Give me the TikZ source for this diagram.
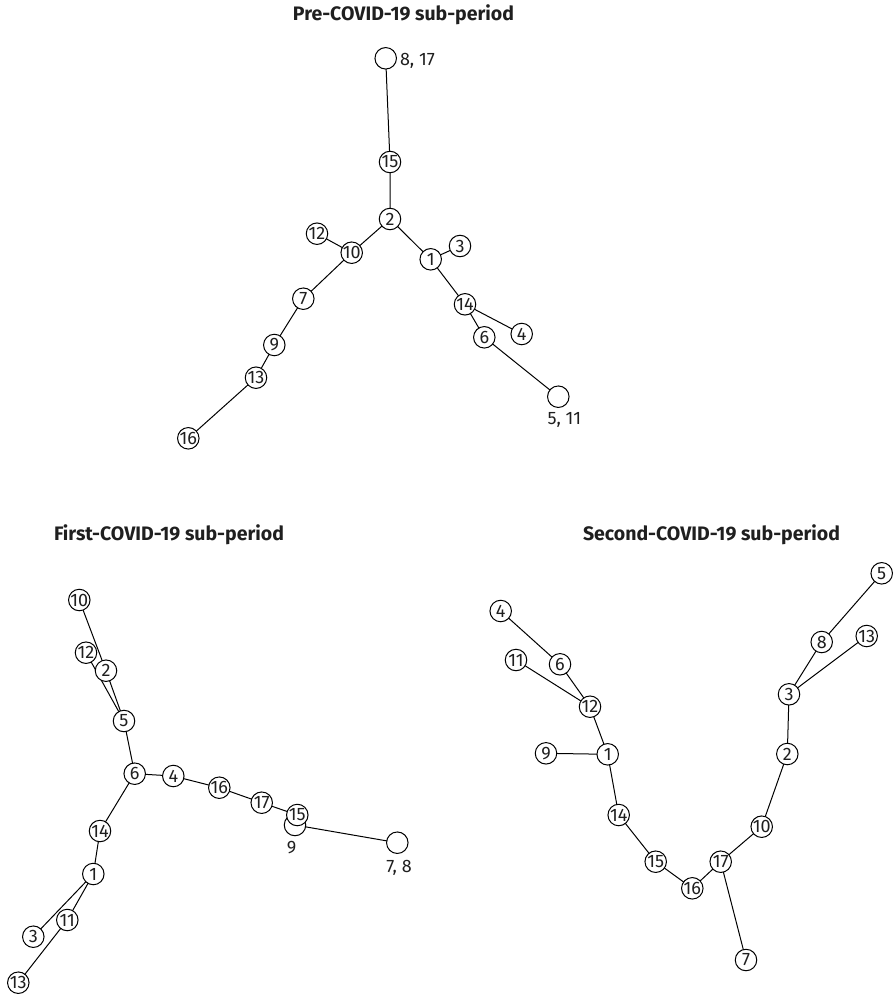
\documentclass[tikz,border=0pt]{standalone}
\usepackage{fontspec}
\setmainfont{Fira Sans}
\pgfdeclarelayer{bg}
\pgfsetlayers{bg,main}
% vertex number set in a zero-width box so every circle has the same size
\newcommand\vnum[1]{\makebox[0pt]{#1}}
\begin{document}
\begin{tikzpicture}[x=1pt,y=-1pt,
  vtx/.style={circle,draw,fill=white,line width=1pt,inner sep=0pt,
    minimum size=21.5pt,text=black!88,font=\fontsize{18}{18}\selectfont},
  edge/.style={line width=1pt},
  ttl/.style={anchor=base,text=black!88,font=\bfseries\fontsize{19.5}{22}\selectfont},
  tag/.style={text=black!88,font=\fontsize{18}{18}\selectfont}]
\useasboundingbox (0,0) rectangle (895,996);

% ---------- Pre-COVID-19 ----------
\node[ttl] (t1) at (403.5,20.7) {Pre-COVID-19 sub-period};
\node[vtx] (a817) at (385.7,58.3) {};
\node[tag,anchor=west] (a817l) at (396.5,60.5) {8, 17};
\node[vtx] (a15) at (390,162) {\vnum{15}};
\node[vtx] (a2) at (390,219) {\vnum{2}};
\node[vtx] (a12) at (317,233.7) {\vnum{12}};
\node[vtx] (a10) at (351.7,252.7) {\vnum{10}};
\node[vtx] (a1) at (430.7,259.3) {\vnum{1}};
\node[vtx] (a3) at (460,246) {\vnum{3}};
\node[vtx] (a7) at (303.3,298.7) {\vnum{7}};
\node[vtx] (a14) at (465,304.3) {\vnum{14}};
\node[vtx] (a4) at (521.7,334) {\vnum{4}};
\node[vtx] (a6) at (484.3,337.3) {\vnum{6}};
\node[vtx] (a9) at (274.3,345) {\vnum{9}};
\node[vtx] (a13) at (256,377.7) {\vnum{13}};
\node[vtx] (a511) at (558.3,396.7) {};
\node[tag] (a511l) at (564.3,420) {5, 11};
\node[vtx] (a16) at (188.3,438.3) {\vnum{16}};

% ---------- First-COVID-19 ----------
\node[ttl] (t2) at (169,540.7) {First-COVID-19 sub-period};
\node[vtx] (b10) at (79.3,600) {\vnum{10}};
\node[vtx] (b12) at (86,652.7) {\vnum{12}};
\node[vtx] (b2) at (106,670.7) {\vnum{2}};
\node[vtx] (b5) at (124,721) {\vnum{5}};
\node[vtx] (b6) at (134.7,773.7) {\vnum{6}};
\node[vtx] (b4) at (173.3,776) {\vnum{4}};
\node[vtx] (b16) at (219.3,787.7) {\vnum{16}};
\node[vtx] (b17) at (261.7,802.7) {\vnum{17}};
\node[vtx] (b9) at (295,825) {};
\node[tag] (b9l) at (291.7,847.7) {9};
\node[vtx] (b15) at (297.3,815) {\vnum{15}};
\node[vtx] (b78) at (397.3,842.7) {};
\node[tag] (b78l) at (399,867.7) {7, 8};
\node[vtx] (b14) at (100,831) {\vnum{14}};
\node[vtx] (b1) at (93.3,874) {\vnum{1}};
\node[vtx] (b11) at (67.3,920) {\vnum{11}};
\node[vtx] (b3) at (33.3,936.7) {\vnum{3}};
\node[vtx] (b13) at (18.3,982.7) {\vnum{13}};

% ---------- Second-COVID-19 ----------
\node[ttl] (t3) at (711.5,540.7) {Second-COVID-19 sub-period};
\node[vtx] (c5) at (881.7,573.3) {\vnum{5}};
\node[vtx] (c4) at (500.7,611) {\vnum{4}};
\node[vtx] (c8) at (821.7,642) {\vnum{8}};
\node[vtx] (c13) at (866.7,636) {\vnum{13}};
\node[vtx] (c11) at (516,660) {\vnum{11}};
\node[vtx] (c6) at (560,664.3) {\vnum{6}};
\node[vtx] (c3) at (789,694.3) {\vnum{3}};
\node[vtx] (c12) at (590,706.7) {\vnum{12}};
\node[vtx] (c9) at (546,753.3) {\vnum{9}};
\node[vtx] (c1) at (607.7,754.3) {\vnum{1}};
\node[vtx] (c2) at (787.3,754) {\vnum{2}};
\node[vtx] (c14) at (618.7,815) {\vnum{14}};
\node[vtx] (c10) at (761.7,826.7) {\vnum{10}};
\node[vtx] (c15) at (655.7,861.7) {\vnum{15}};
\node[vtx] (c17) at (720.7,861.7) {\vnum{17}};
\node[vtx] (c16) at (692.3,888.3) {\vnum{16}};
\node[vtx] (c7) at (746,960) {\vnum{7}};

% ---------- edges, kept under the vertices ----------
\begin{pgfonlayer}{bg}
\draw[edge] (a817.center) -- (a15.center) -- (a2.center);
\draw[edge] (a2.center) -- (a10.center) -- (a7.center) -- (a9.center)
  -- (a13.center) -- (a16.center);
\draw[edge] (a12.center) -- (a10.center);
\draw[edge] (a2.center) -- (a1.center) -- (a14.center) -- (a6.center)
  -- (a511.center);
\draw[edge] (a1.center) -- (a3.center);
\draw[edge] (a14.center) -- (a4.center);

\draw[edge] (b10.center) -- (b2.center) -- (b5.center);
\draw[edge] (b12.center) -- (b5.center);
\draw[edge] (b5.center) -- (b6.center) -- (b4.center) -- (b16.center)
  -- (b17.center) -- (b15.center) -- (b9.center) -- (b78.center);
\draw[edge] (b6.center) -- (b14.center) -- (b1.center) -- (b11.center)
  -- (b13.center);
\draw[edge] (b1.center) -- (b3.center);

\draw[edge] (c5.center) -- (c8.center) -- (c3.center) -- (c2.center)
  -- (c10.center) -- (c17.center) -- (c16.center) -- (c15.center)
  -- (c14.center) -- (c1.center) -- (c12.center) -- (c6.center) -- (c4.center);
\draw[edge] (c13.center) -- (c3.center);
\draw[edge] (c17.center) -- (c7.center);
\draw[edge] (c9.center) -- (c1.center);
\draw[edge] (c11.center) -- (c12.center);
\end{pgfonlayer}
\end{tikzpicture}
\end{document}
